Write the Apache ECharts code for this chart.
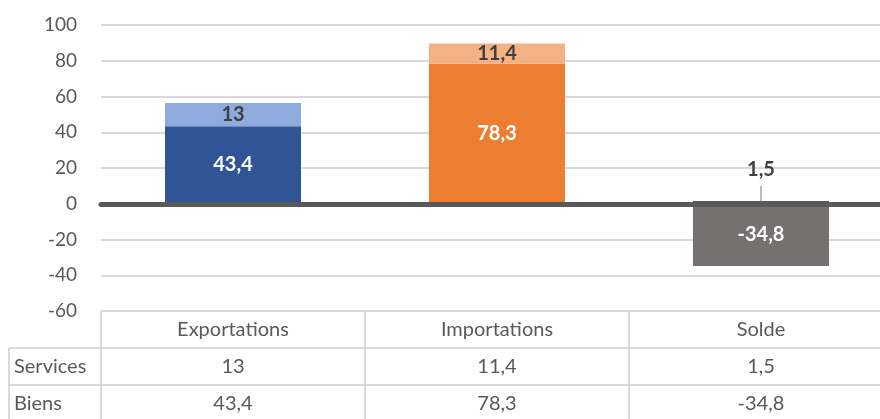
<!DOCTYPE html>
<html>
<head>
<meta charset="utf-8">
<script src="https://cdn.jsdelivr.net/npm/echarts@6/dist/echarts.min.js"></script>
<style>
  html, body { margin: 0; padding: 0; background: #fff; }
  #chart { width: 880px; height: 419px; }
</style>
</head>
<body>
<div id="chart"></div>
<script>
var categories = ['Exportations', 'Importations', 'Solde'];
var biens = [43.4, 78.3, -34.8];
var services = [13, 11.4, 1.5];
var rowNames = ['Services', 'Biens'];
var yTicks = { min: -60, max: 100, interval: 20 };

var FONT = 'Lato';
var fmt = function (v) { return String(v).replace('.', ','); };

var chart = echarts.init(document.getElementById('chart'));

var gridLeft = 101, gridTop = 25, gridWidth = 792, gridHeight = 286;
var rowH = 37;

var option = {
    animation: false,
    textStyle: { fontFamily: FONT },
    grid: { left: gridLeft, top: gridTop, width: gridWidth, height: gridHeight, outerBoundsMode: 'none', containLabel: false },
    xAxis: {
        type: 'category',
        data: categories,
        z: 5,
        axisLine: { onZero: true, lineStyle: { color: '#595959', width: 5 } },
        axisTick: { show: false },
        axisLabel: { show: false }
    },
    yAxis: {
        type: 'value',
        min: yTicks.min,
        max: yTicks.max,
        interval: yTicks.interval,
        axisLine: { show: false },
        axisTick: { show: false },
        axisLabel: { color: '#595959', fontSize: 19, fontFamily: FONT, margin: 24 },
        splitLine: { lineStyle: { color: '#d9d9d9', width: 2 } }
    },
    series: [
        {
            name: 'Biens',
            type: 'bar',
            stack: 'total',
            barWidth: 136,
            data: biens.map(function (v, i) {
                return { value: v, itemStyle: { color: ['#2F5597', '#ED7D31', '#767171'][i] } };
            }),
            label: {
                show: true,
                position: 'inside',
                color: '#fff',
                fontWeight: 'bold',
                fontSize: 20,
                fontFamily: FONT,
                formatter: function (p) { return fmt(p.value); }
            }
        },
        {
            name: 'Services',
            type: 'bar',
            stack: 'total',
            barWidth: 136,
            data: services.map(function (v, i) {
                var d = { value: v, itemStyle: { color: ['#8FAADC', '#F4B183', '#595959'][i] } };
                if (i === 2) {
                    d.label = { position: 'top', distance: 22 };
                }
                return d;
            }),
            label: {
                show: true,
                position: 'inside',
                color: '#404040',
                fontWeight: 'bold',
                fontSize: 20,
                fontFamily: FONT,
                formatter: function (p) { return fmt(p.value); }
            }
        }
    ]
};
chart.setOption(option);

// data table under the plot
var colW = gridWidth / categories.length;
var tableTop = gridTop + gridHeight;
var lineStyle = { stroke: '#d9d9d9', lineWidth: 2 };
var g = [];
function hline(x1, x2, y) {
    g.push({ type: 'line', shape: { x1: x1, y1: y, x2: x2, y2: y }, style: lineStyle, silent: true });
}
function vline(x, y1, y2) {
    g.push({ type: 'line', shape: { x1: x, y1: y1, x2: x, y2: y2 }, style: lineStyle, silent: true });
}
function txt(x, y, s, align) {
    g.push({ type: 'text', x: x, y: y, silent: true,
        style: { text: s, fill: '#595959', font: '20px ' + FONT, textAlign: align, textVerticalAlign: 'middle' } });
}
hline(gridLeft, 880, tableTop);
hline(9, 880, tableTop + rowH);
hline(9, 880, tableTop + 2 * rowH);
for (var c = 0; c <= categories.length; c++) {
    vline(gridLeft + c * colW, tableTop, 419);
}
vline(9, tableTop + rowH, 419);
var rows = [services, biens];
categories.forEach(function (name, i) {
    var cx = gridLeft + colW * (i + 0.5);
    txt(cx, tableTop + rowH / 2, name, 'center');
    rows.forEach(function (r, j) {
        txt(cx, tableTop + rowH * (j + 1.5), fmt(r[i]), 'center');
    });
});
rowNames.forEach(function (n, j) {
    txt(14, tableTop + rowH * (j + 1.5), n, 'left');
});

// leader line for the small Solde services label
var p0 = chart.convertToPixel({ seriesIndex: 1 }, [2, services[2]]);
g.push({ type: 'line', shape: { x1: p0[0], y1: p0[1] - 15, x2: p0[0], y2: p0[1] + 2 },
    style: { stroke: '#a6a6a6', lineWidth: 1.5 }, silent: true });

chart.setOption({ graphic: g });
</script>
</body>
</html>
